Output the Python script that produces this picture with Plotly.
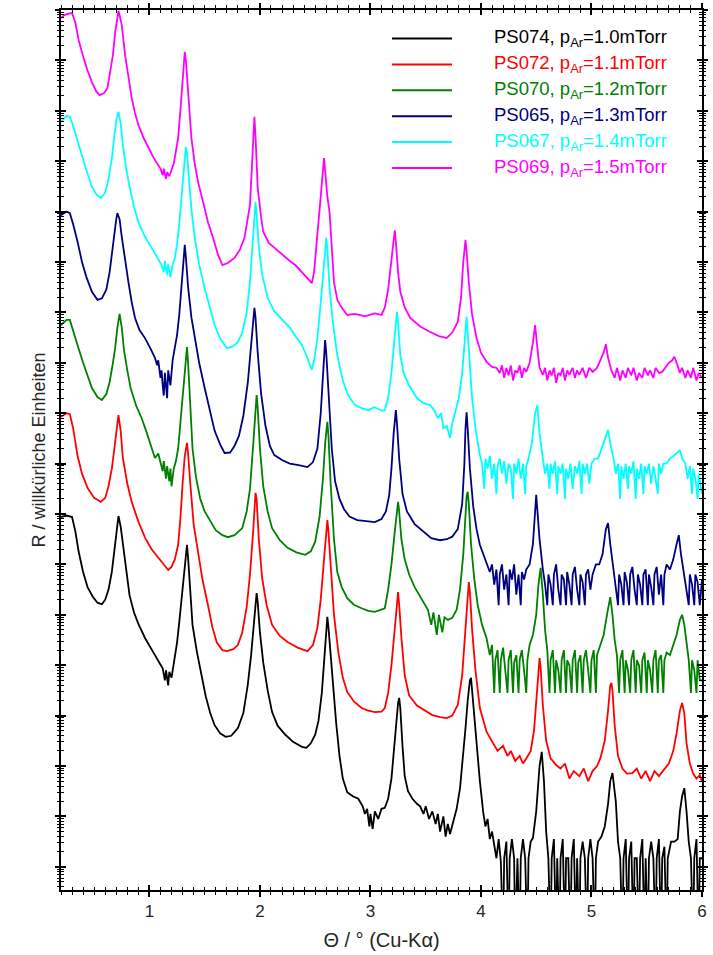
import numpy as np
import plotly.graph_objects as go

# ---------------- data (theta in degrees, log10 of reflectivity, arbitrary offset units) ----------------
sample_ids = ["PS074", "PS072", "PS070", "PS065", "PS067", "PS069"]
pressures_mTorr = ["1.0", "1.1", "1.2", "1.3", "1.4", "1.5"]
colors = ["#000000", "#FF0000", "#008000", "#000080", "#00FFFF", "#FF00FF"]

theta_ps074 = [0.20, 0.25, 0.30, 0.33, 0.36, 0.40, 0.44, 0.49, 0.53, 0.57, 0.60, 0.63, 0.66, 0.68, 0.70, 0.72,
               0.74, 0.76, 0.79, 0.82, 0.86, 0.90, 0.96, 1.00, 1.05, 1.09, 1.12, 1.14, 1.15, 1.17, 1.18, 1.20,
               1.21, 1.23, 1.25, 1.27, 1.29, 1.31, 1.33, 1.34, 1.35, 1.37, 1.39, 1.43, 1.47, 1.51, 1.55, 1.59,
               1.64, 1.69, 1.74, 1.80, 1.85, 1.89, 1.92, 1.95, 1.97, 1.98, 2.00, 2.03, 2.07, 2.11, 2.16, 2.23,
               2.30, 2.38, 2.42, 2.46, 2.50, 2.53, 2.56, 2.58, 2.60, 2.61, 2.62, 2.64, 2.66, 2.69, 2.72, 2.75,
               2.79, 2.84, 2.89, 2.93, 2.95, 2.97, 2.99, 3.00, 3.02, 3.04, 3.07, 3.10, 3.13, 3.16, 3.19, 3.21,
               3.23, 3.25, 3.26, 3.27, 3.29, 3.31, 3.34, 3.38, 3.42, 3.45, 3.48, 3.50, 3.53, 3.56, 3.59, 3.61,
               3.63, 3.66, 3.68, 3.70, 3.72, 3.75, 3.78, 3.81, 3.84, 3.86, 3.88, 3.90, 3.91, 3.92, 3.94, 3.96,
               3.99, 4.02, 4.04, 4.06, 4.08, 4.10, 4.12,
               4.14, 4.16, 4.18, 4.20, 4.21, 4.23, 4.25, 4.26, 4.28, 4.30, 4.31, 4.33, 4.35, 4.36, 4.38, 4.40,
               4.42, 4.43, 4.45, 4.47, 4.50, 4.53, 4.55, 4.57, 4.59, 4.61, 4.63, 4.64, 4.66, 4.68, 4.69, 4.71,
               4.72, 4.74, 4.76, 4.77, 4.79, 4.81, 4.82, 4.84, 4.86, 4.87, 4.89, 4.90, 4.92, 4.94, 4.96, 4.97,
               4.99, 5.01, 5.03, 5.04, 5.06, 5.09, 5.12, 5.15, 5.17, 5.19, 5.22, 5.24, 5.26, 5.28, 5.29, 5.31,
               5.33, 5.34, 5.36, 5.38, 5.39, 5.41, 5.43, 5.44, 5.46, 5.48, 5.49, 5.51, 5.52, 5.54, 5.56, 5.58,
               5.59, 5.61, 5.63, 5.64, 5.66, 5.68, 5.69, 5.72, 5.75, 5.78, 5.80, 5.82, 5.84, 5.86, 5.88, 5.90,
               5.92, 5.93, 5.95, 5.97, 5.98, 6.00]
logR_ps074 = [-10.06, -10.03, -10.06, -10.35, -10.75, -11.15, -11.45, -11.65, -11.76, -11.79, -11.70, -11.50,
              -11.15, -10.80, -10.35, -10.04, -10.25, -10.61, -11.15, -11.61, -11.95, -12.18, -12.46, -12.60,
              -12.80, -12.95, -13.06, -13.30, -13.10, -13.40, -13.13, -13.25, -13.10, -12.86, -12.55, -12.15,
              -11.70, -11.20, -10.75, -10.61, -10.87, -11.61, -12.20, -12.74, -13.20, -13.62, -13.95, -14.19,
              -14.35, -14.42, -14.40, -14.25, -13.95, -13.39, -12.80, -12.05, -11.57, -11.75, -12.35, -12.95,
              -13.50, -13.93, -14.20, -14.38, -14.52, -14.62, -14.64, -14.55, -14.38, -14.10, -13.55, -12.95,
              -12.35, -12.04, -12.25, -12.80, -13.35, -14.15, -14.80, -15.25, -15.52, -15.60, -15.65, -15.80,
              -15.95, -15.85, -16.20, -15.95, -16.25, -15.90, -16.05, -15.85, -15.83, -15.65, -15.25, -14.70,
              -14.15, -13.75, -13.65, -13.85, -14.60, -15.20, -15.50, -15.65, -15.75, -15.80, -15.95, -15.80,
              -16.05, -15.90, -16.15, -15.95, -16.30, -16.00, -16.40, -16.15, -16.35, -16.10, -15.85, -15.45,
              -14.80, -14.25, -13.70, -13.30, -13.25, -13.50, -14.10, -14.60, -15.30, -15.91, -16.20, -16.05,
              -16.45, -16.30, -16.60,
              -16.83, -16.45, -16.90, -18.50, -16.83, -16.50, -18.50, -16.83, -16.45, -16.83, -18.50, -16.83,
              -18.50, -16.83, -16.45, -16.83, -18.50, -16.83, -16.50, -16.43, -15.90, -15.00, -14.72, -15.30,
              -16.30, -16.83, -18.50, -16.83, -16.45, -18.50, -16.83, -18.50, -16.83, -16.45, -18.50, -16.83,
              -16.83, -18.50, -16.83, -16.45, -18.50, -16.83, -18.50, -16.83, -16.50, -16.83, -18.50, -16.83,
              -16.45, -16.83, -18.50, -16.83, -16.50, -16.40, -16.20, -15.75, -15.30, -15.14, -15.70, -16.50,
              -16.83, -18.50, -16.83, -16.45, -18.50, -16.83, -16.50, -18.50, -16.83, -16.83, -18.50, -16.83,
              -16.45, -18.50, -16.83, -18.50, -16.83, -16.50, -16.83, -18.50, -16.83, -16.45, -18.50, -16.83,
              -16.60, -18.50, -16.83, -16.50, -16.50, -16.45, -15.90, -15.60, -15.44, -15.90, -16.50, -16.83,
              -18.50, -16.83, -16.45, -18.50, -16.83, -16.83]

theta_ps072 = [0.20, 0.25, 0.28, 0.31, 0.35, 0.39, 0.44, 0.50, 0.56, 0.60, 0.63, 0.66, 0.68, 0.70, 0.72, 0.74,
               0.76, 0.80, 0.84, 0.90, 0.96, 1.02, 1.08, 1.13, 1.17, 1.20, 1.23, 1.26, 1.28, 1.30, 1.32, 1.34,
               1.35, 1.37, 1.40, 1.44, 1.48, 1.53, 1.57, 1.61, 1.66, 1.70, 1.76, 1.80, 1.84, 1.88, 1.91, 1.94,
               1.96, 1.97, 1.99, 2.02, 2.06, 2.11, 2.18, 2.25, 2.34, 2.43, 2.48, 2.52, 2.55, 2.58, 2.60, 2.61,
               2.62, 2.64, 2.67, 2.71, 2.75, 2.79, 2.85, 2.92, 2.98, 3.04, 3.10, 3.13, 3.16, 3.19, 3.22, 3.24,
               3.25, 3.26, 3.28, 3.31, 3.35, 3.42, 3.49, 3.56, 3.63, 3.69, 3.74, 3.79, 3.83, 3.86, 3.88, 3.89,
               3.90, 3.92, 3.95, 3.99, 4.05, 4.10, 4.15, 4.20, 4.24, 4.27, 4.31, 4.35, 4.38, 4.41, 4.45, 4.48,
               4.50, 4.52, 4.53, 4.54, 4.56, 4.59, 4.63, 4.68, 4.72, 4.76, 4.80, 4.84, 4.89, 4.93, 4.97, 5.01,
               5.05, 5.08, 5.12, 5.15, 5.17, 5.18, 5.19, 5.21, 5.24, 5.28, 5.32, 5.37, 5.41, 5.45, 5.49, 5.53,
               5.57, 5.61, 5.64, 5.70, 5.74, 5.77, 5.80, 5.82, 5.84, 5.86, 5.89, 5.92, 5.95, 5.98, 6.00]
logR_ps072 = [-8.07, -8.00, -8.02, -8.30, -8.85, -9.20, -9.48, -9.68, -9.76, -9.68, -9.45, -9.10, -8.75, -8.35,
              -8.04, -8.35, -8.89, -9.40, -9.76, -10.15, -10.47, -10.70, -10.87, -11.02, -11.11, -11.05, -10.90,
              -10.61, -10.10, -9.40, -8.85, -8.59, -8.80, -9.40, -10.20, -10.75, -11.30, -11.81, -12.25, -12.55,
              -12.70, -12.72, -12.68, -12.60, -12.35, -11.85, -11.20, -10.30, -9.58, -9.70, -10.50, -11.27,
              -11.80, -12.20, -12.42, -12.54, -12.65, -12.72, -12.60, -12.26, -11.70, -10.90, -10.30, -10.12,
              -10.35, -11.00, -12.00, -12.75, -13.25, -13.53, -13.72, -13.85, -13.90, -13.93, -13.92, -13.85,
              -13.55, -13.00, -12.20, -11.70, -11.55, -11.80, -12.45, -13.20, -13.60, -13.80, -13.90, -13.99,
              -14.03, -14.05, -14.00, -13.79, -13.20, -12.30, -11.55, -11.35, -11.55, -12.30, -13.10, -13.85,
              -14.32, -14.50, -14.70, -14.60, -14.80, -14.70, -14.90, -14.80, -14.95, -14.85, -14.70, -14.30,
              -13.70, -13.05, -12.86, -13.05, -13.80, -14.50, -14.85, -14.98, -15.05, -14.95, -15.25, -15.10,
              -15.20, -15.05, -15.30, -15.10, -15.00, -14.85, -14.50, -13.90, -13.40, -13.35, -13.50, -14.20,
              -14.80, -15.05, -15.15, -15.14, -15.05, -15.25, -15.10, -15.30, -15.10, -15.20, -15.12, -14.95,
              -14.70, -14.35, -13.90, -13.75, -13.95, -14.55, -14.95, -15.15, -15.25, -15.18, -15.30]

theta_ps070 = [0.20, 0.25, 0.28, 0.31, 0.35, 0.40, 0.44, 0.48, 0.53, 0.57, 0.61, 0.64, 0.67, 0.69, 0.71, 0.73,
               0.75, 0.77, 0.80, 0.83, 0.88, 0.93, 0.97, 1.00, 1.03, 1.05, 1.08, 1.10, 1.12, 1.13, 1.15, 1.16,
               1.18, 1.19, 1.20, 1.22, 1.24, 1.26, 1.28, 1.30, 1.32, 1.34, 1.35, 1.37, 1.39, 1.42, 1.46, 1.50,
               1.55, 1.60, 1.66, 1.71, 1.77, 1.84, 1.88, 1.91, 1.94, 1.96, 1.97, 1.98, 2.00, 2.03, 2.07, 2.11,
               2.18, 2.25, 2.33, 2.41, 2.46, 2.50, 2.54, 2.57, 2.59, 2.61, 2.62, 2.64, 2.67, 2.70, 2.74, 2.79,
               2.85, 2.92, 2.98, 3.04, 3.10, 3.13, 3.16, 3.19, 3.22, 3.24, 3.25, 3.26, 3.28, 3.31, 3.35, 3.40,
               3.45, 3.49, 3.52, 3.55, 3.57, 3.60, 3.62, 3.65, 3.67, 3.70, 3.74, 3.78, 3.81, 3.84, 3.86, 3.87,
               3.88, 3.89, 3.91, 3.94, 3.97, 4.01, 4.05,
               4.08, 4.10, 4.12, 4.13, 4.15, 4.17, 4.18, 4.20, 4.22, 4.24, 4.25, 4.27, 4.29, 4.30, 4.32, 4.34,
               4.35, 4.37, 4.39, 4.41, 4.42, 4.44, 4.47, 4.50, 4.52, 4.54, 4.56, 4.58, 4.60, 4.62, 4.63, 4.65,
               4.67, 4.68, 4.70, 4.72, 4.73, 4.75, 4.77, 4.78, 4.80, 4.82, 4.83, 4.85, 4.87, 4.88, 4.90, 4.92,
               4.93, 4.95, 4.97, 4.99, 5.00, 5.02, 5.04, 5.05, 5.08, 5.11, 5.14, 5.17, 5.19, 5.21, 5.23, 5.25,
               5.26, 5.28, 5.30, 5.31, 5.33, 5.35, 5.36, 5.38, 5.40, 5.41, 5.43, 5.45, 5.46, 5.48, 5.50, 5.51,
               5.53, 5.55, 5.56, 5.58, 5.60, 5.61, 5.63, 5.65, 5.66, 5.68, 5.71, 5.74, 5.77, 5.80, 5.82, 5.84,
               5.86, 5.88, 5.90, 5.91, 5.93, 5.95, 5.96, 5.98, 6.00]
logR_ps070 = [-6.25, -6.15, -6.15, -6.35, -6.65, -7.00, -7.25, -7.50, -7.68, -7.74, -7.62, -7.38, -7.00, -6.71,
              -6.30, -6.03, -6.30, -6.75, -7.15, -7.50, -7.85, -8.10, -8.35, -8.57, -8.75, -8.89, -8.80, -9.00,
              -9.15, -8.95, -9.30, -9.05, -9.35, -9.10, -9.45, -9.10, -8.95, -8.70, -8.20, -7.60, -7.05, -6.69,
              -7.00, -7.90, -8.70, -9.25, -9.70, -9.95, -10.15, -10.32, -10.42, -10.46, -10.42, -10.28, -9.95,
              -9.50, -8.60, -7.90, -7.64, -7.90, -8.70, -9.45, -9.95, -10.28, -10.52, -10.67, -10.76, -10.81,
              -10.74, -10.55, -10.05, -9.30, -8.60, -8.17, -8.45, -9.40, -10.50, -11.15, -11.45, -11.67, -11.80,
              -11.87, -11.92, -11.94, -11.90, -11.87, -11.50, -11.00, -10.35, -9.90, -9.76, -9.95, -10.50,
              -10.90, -11.20, -11.45, -11.65, -11.80, -11.90, -12.20, -11.95, -12.40, -12.00, -12.35, -12.05,
              -12.10, -12.06, -11.90, -11.50, -10.80, -10.00, -9.65, -9.56, -9.80, -10.60, -11.30, -11.80,
              -12.20, -12.46,
              -12.80, -12.60, -13.55, -12.90, -12.70, -13.55, -12.90, -12.65, -13.10, -13.55, -12.90, -12.70,
              -13.55, -12.95, -12.80, -13.55, -12.90, -12.70, -13.10, -13.55, -12.90, -12.60, -12.40, -12.00,
              -11.40, -11.07, -11.60, -12.30, -12.70, -13.55, -12.90, -12.70, -13.55, -12.90, -13.10, -13.55,
              -12.90, -12.70, -13.55, -12.90, -13.00, -13.55, -12.90, -12.70, -13.55, -12.95, -12.80, -13.55,
              -12.90, -12.70, -13.10, -13.55, -12.90, -12.70, -13.55, -12.80, -12.60, -12.40, -12.00, -11.65,
              -12.00, -12.50, -12.80, -13.55, -12.90, -12.70, -13.55, -12.90, -13.10, -13.55, -12.90, -12.70,
              -13.55, -12.90, -13.00, -13.55, -12.90, -12.75, -13.55, -12.90, -13.10, -13.55, -12.90, -12.70,
              -13.55, -12.90, -12.80, -13.55, -12.90, -12.75, -12.80, -12.60, -12.40, -12.10, -12.00, -12.20,
              -12.60, -12.90, -13.55, -12.90, -13.10, -13.55, -12.90, -13.30, -13.30]

theta_ps065 = [0.20, 0.25, 0.28, 0.31, 0.35, 0.39, 0.43, 0.48, 0.53, 0.57, 0.61, 0.64, 0.66, 0.68, 0.70, 0.71,
               0.73, 0.75, 0.78, 0.81, 0.84, 0.87, 0.91, 0.96, 1.01, 1.05, 1.07, 1.08, 1.10, 1.11, 1.12, 1.13,
               1.14, 1.15, 1.16, 1.17, 1.19, 1.20, 1.21, 1.23, 1.25, 1.27, 1.29, 1.31, 1.32, 1.33, 1.35, 1.38,
               1.41, 1.45, 1.50, 1.55, 1.59, 1.64, 1.68, 1.73, 1.77, 1.81, 1.85, 1.89, 1.92, 1.94, 1.95, 1.96,
               1.98, 2.01, 2.05, 2.09, 2.13, 2.20, 2.27, 2.35, 2.43, 2.48, 2.52, 2.55, 2.57, 2.59, 2.60, 2.62,
               2.65, 2.68, 2.72, 2.76, 2.81, 2.88, 2.95, 3.04, 3.10, 3.14, 3.17, 3.19, 3.21, 3.23, 3.24, 3.26,
               3.29, 3.33, 3.40, 3.48, 3.55, 3.63, 3.69, 3.74, 3.79, 3.83, 3.85, 3.86, 3.87, 3.88, 3.90, 3.93,
               3.96, 3.99, 4.03, 4.06, 4.08,
               4.10, 4.12, 4.14, 4.16, 4.17, 4.19, 4.21, 4.23, 4.25, 4.26, 4.28, 4.30, 4.32, 4.34, 4.36, 4.37,
               4.39, 4.41, 4.44, 4.47, 4.50, 4.53, 4.56, 4.58, 4.60, 4.61, 4.63, 4.65, 4.66, 4.68, 4.70, 4.72,
               4.73, 4.75, 4.77, 4.78, 4.80, 4.82, 4.83, 4.85, 4.87, 4.89, 4.90, 4.92, 4.94, 4.95, 4.97, 4.99,
               5.01, 5.04, 5.07, 5.10, 5.13, 5.15, 5.17, 5.20, 5.22, 5.24, 5.25, 5.27, 5.29, 5.30, 5.32, 5.34,
               5.35, 5.37, 5.39, 5.41, 5.42, 5.44, 5.46, 5.47, 5.49, 5.51, 5.52, 5.54, 5.56, 5.57, 5.59, 5.61,
               5.63, 5.65, 5.66, 5.68, 5.71, 5.74, 5.77, 5.79, 5.81, 5.84, 5.86, 5.88, 5.89, 5.91, 5.93, 5.94,
               5.96, 5.98, 6.00]
logR_ps065 = [-4.07, -4.00, -4.03, -4.25, -4.60, -5.00, -5.30, -5.59, -5.75, -5.72, -5.55, -5.20, -4.85, -4.45,
              -4.15, -4.03, -4.15, -4.50, -5.00, -5.40, -5.80, -6.11, -6.35, -6.51, -6.72, -6.90, -7.05, -6.95,
              -7.30, -7.15, -7.45, -7.65, -7.20, -7.50, -7.70, -7.15, -7.45, -7.20, -6.95, -6.70, -6.45, -6.05,
              -5.50, -4.95, -4.66, -4.90, -5.50, -6.10, -6.51, -7.00, -7.50, -8.00, -8.35, -8.62, -8.79, -8.78,
              -8.65, -8.45, -8.05, -7.40, -6.70, -6.10, -5.91, -6.10, -6.80, -7.60, -8.25, -8.65, -8.83, -8.93,
              -9.00, -9.03, -9.07, -8.97, -8.70, -8.00, -7.20, -6.55, -6.80, -7.60, -8.70, -9.35, -9.70, -9.90,
              -10.05, -10.12, -10.14, -10.16, -10.10, -9.95, -9.62, -9.10, -8.40, -7.94, -8.20, -8.90, -9.60,
              -9.95, -10.20, -10.35, -10.48, -10.52, -10.50, -10.45, -10.30, -9.80, -9.00, -8.30, -7.98, -8.30,
              -9.10, -9.85, -10.30, -10.61, -10.85, -11.00, -11.15,
              -11.00, -11.40, -11.10, -11.81, -11.20, -11.00, -11.50, -11.20, -11.81, -11.10, -11.30, -11.00,
              -11.60, -11.20, -11.81, -11.15, -11.30, -11.10, -11.00, -10.60, -9.62, -10.50, -11.10, -11.40,
              -11.81, -11.20, -11.40, -11.81, -11.20, -11.00, -11.50, -11.81, -11.20, -11.30, -11.81, -11.15,
              -11.40, -11.81, -11.20, -11.05, -11.50, -11.81, -11.20, -11.35, -11.81, -11.20, -11.10, -11.50,
              -11.20, -11.00, -11.00, -10.80, -10.30, -10.18, -10.60, -11.10, -11.40, -11.81, -11.20, -11.40,
              -11.81, -11.15, -11.35, -11.81, -11.20, -11.05, -11.50, -11.81, -11.20, -11.40, -11.81, -11.20,
              -11.10, -11.81, -11.20, -11.45, -11.81, -11.20, -11.05, -11.60, -11.20, -11.81, -11.20, -11.00,
              -11.10, -10.90, -10.60, -10.42, -10.80, -11.20, -11.50, -11.81, -11.20, -11.40, -11.81, -11.20,
              -11.35, -11.81, -11.30]

theta_ps067 = [0.20, 0.25, 0.28, 0.31, 0.35, 0.39, 0.43, 0.48, 0.52, 0.56, 0.60, 0.63, 0.66, 0.68, 0.70, 0.72,
               0.74, 0.76, 0.79, 0.82, 0.86, 0.90, 0.96, 1.02, 1.07, 1.11, 1.13, 1.14, 1.16, 1.17, 1.19, 1.21,
               1.23, 1.25, 1.27, 1.29, 1.31, 1.33, 1.34, 1.36, 1.38, 1.41, 1.45, 1.50, 1.55, 1.59, 1.64, 1.70,
               1.75, 1.80, 1.84, 1.88, 1.91, 1.94, 1.96, 1.97, 1.99, 2.02, 2.07, 2.13, 2.20, 2.27, 2.33, 2.38,
               2.42, 2.45, 2.47, 2.49, 2.52, 2.55, 2.58, 2.60, 2.61, 2.63, 2.66, 2.70, 2.75, 2.80, 2.86, 2.92,
               2.98, 3.04, 3.10, 3.13, 3.16, 3.19, 3.21, 3.23, 3.24, 3.25, 3.27, 3.30, 3.35, 3.42, 3.48, 3.54,
               3.58, 3.61, 3.64, 3.66, 3.69, 3.72, 3.74, 3.77, 3.80, 3.83, 3.85, 3.87, 3.88, 3.90, 3.92, 3.95,
               3.99,
               4.01, 4.03, 4.04, 4.06, 4.08, 4.10, 4.12, 4.14, 4.15, 4.17, 4.19, 4.21, 4.23, 4.25, 4.27, 4.29,
               4.30, 4.32, 4.34, 4.36, 4.38, 4.40, 4.41, 4.43, 4.46, 4.49, 4.51, 4.53, 4.56, 4.58, 4.60, 4.62,
               4.63, 4.65, 4.67, 4.69, 4.70, 4.72, 4.74, 4.76, 4.77, 4.79, 4.81, 4.83, 4.85, 4.87, 4.89, 4.91,
               4.92, 4.94, 4.96, 4.98, 5.00, 5.03, 5.06, 5.09, 5.12, 5.15, 5.17, 5.20, 5.22, 5.24, 5.26, 5.27,
               5.29, 5.31, 5.33, 5.34, 5.36, 5.38, 5.40, 5.41, 5.43, 5.45, 5.47, 5.48, 5.50, 5.52, 5.54, 5.56,
               5.58, 5.60, 5.61, 5.63, 5.65, 5.68, 5.71, 5.74, 5.77, 5.80, 5.82, 5.85, 5.87, 5.89, 5.91, 5.92,
               5.94, 5.96, 5.97, 6.00]
logR_ps067 = [-2.22, -2.10, -2.12, -2.30, -2.60, -2.90, -3.18, -3.51, -3.66, -3.73, -3.62, -3.35, -2.95, -2.55,
              -2.20, -2.02, -2.25, -2.68, -3.15, -3.50, -3.90, -4.21, -4.50, -4.72, -4.90, -5.06, -5.20, -4.98,
              -5.25, -5.05, -5.30, -5.05, -4.92, -4.65, -4.25, -3.80, -3.20, -2.72, -2.85, -3.40, -3.95, -4.52,
              -5.05, -5.52, -5.95, -6.25, -6.52, -6.71, -6.68, -6.59, -6.40, -6.00, -5.40, -4.50, -3.81, -4.05,
              -4.70, -5.25, -5.71, -5.98, -6.15, -6.30, -6.50, -6.65, -6.85, -7.05, -7.14, -6.95, -6.51, -5.80,
              -5.00, -4.52, -4.75, -5.52, -6.20, -6.85, -7.35, -7.65, -7.84, -7.90, -7.94, -7.88, -7.95, -7.94,
              -7.70, -7.20, -6.70, -6.15, -5.99, -6.20, -6.85, -7.20, -7.45, -7.70, -7.80, -7.84, -7.95, -8.10,
              -8.00, -8.30, -8.25, -8.49, -8.20, -7.95, -7.70, -7.20, -6.60, -6.09, -6.40, -7.10, -7.70, -8.30,
              -8.83,
              -9.00, -9.50, -8.90, -9.10, -8.85, -9.30, -9.00, -9.60, -9.05, -8.90, -9.20, -8.95, -9.40, -9.00,
              -9.10, -9.70, -9.00, -9.20, -8.90, -9.30, -9.00, -9.60, -9.05, -8.90, -8.60, -8.00, -7.84, -8.40,
              -8.90, -9.20, -9.00, -9.50, -9.00, -9.20, -8.95, -9.60, -9.05, -9.20, -9.00, -9.70, -9.10, -9.30,
              -9.00, -9.50, -9.05, -9.20, -8.95, -9.60, -9.00, -9.20, -9.00, -9.40, -9.00, -8.90, -8.90, -8.70,
              -8.50, -8.33, -8.60, -8.90, -9.20, -9.00, -9.70, -9.05, -9.30, -9.00, -9.50, -9.05, -9.20, -8.95,
              -9.70, -9.10, -9.30, -9.00, -9.60, -9.05, -9.20, -9.00, -9.40, -9.05, -9.30, -9.60, -9.00, -9.20,
              -9.00, -9.00, -8.90, -8.85, -8.80, -8.73, -8.90, -9.00, -9.30, -9.05, -9.60, -9.10, -9.30, -9.70,
              -9.20, -9.60]

theta_ps069 = [0.20, 0.23, 0.27, 0.30, 0.33, 0.36, 0.40, 0.44, 0.48, 0.52, 0.55, 0.59, 0.62, 0.65, 0.67, 0.69,
               0.71, 0.72, 0.73, 0.75, 0.78, 0.81, 0.84, 0.87, 0.90, 0.95, 0.99, 1.03, 1.08, 1.10, 1.12, 1.13,
               1.15, 1.16, 1.18, 1.20, 1.22, 1.24, 1.26, 1.28, 1.30, 1.32, 1.33, 1.35, 1.38, 1.41, 1.44, 1.49,
               1.53, 1.58, 1.62, 1.66, 1.71, 1.77, 1.82, 1.86, 1.89, 1.91, 1.93, 1.95, 1.96, 1.98, 2.01, 2.03,
               2.08, 2.13, 2.20, 2.27, 2.32, 2.38, 2.43, 2.47, 2.49, 2.52, 2.55, 2.58, 2.59, 2.61, 2.63, 2.65,
               2.67, 2.70, 2.74, 2.79, 2.86, 2.95, 3.04, 3.10, 3.13, 3.16, 3.19, 3.21, 3.22, 3.23, 3.25, 3.27,
               3.31, 3.36, 3.45, 3.54, 3.62, 3.69, 3.74, 3.79, 3.82, 3.84, 3.86, 3.87, 3.89, 3.92, 3.96, 4.00,
               4.05, 4.10, 4.14,
               4.17, 4.19, 4.21, 4.23, 4.25, 4.27, 4.29, 4.31, 4.33, 4.35, 4.37, 4.39, 4.41, 4.44, 4.47, 4.49,
               4.51, 4.53, 4.56, 4.58, 4.60, 4.62, 4.64, 4.66, 4.68, 4.70, 4.72, 4.74, 4.76, 4.78, 4.80, 4.83,
               4.85, 4.87, 4.89, 4.92, 4.95, 4.98, 5.01, 5.05, 5.08, 5.11, 5.13, 5.15, 5.18, 5.21, 5.23, 5.26,
               5.28, 5.31, 5.33, 5.36, 5.38, 5.41, 5.43, 5.46, 5.48, 5.51, 5.53, 5.56, 5.58, 5.61, 5.64, 5.67,
               5.70, 5.73, 5.75, 5.77, 5.80, 5.82, 5.85, 5.87, 5.90, 5.92, 5.95, 5.97, 6.00]
logR_ps069 = [-0.16, -0.10, -0.07, -0.06, -0.25, -0.60, -0.92, -1.20, -1.43, -1.62, -1.69, -1.65, -1.55, -1.20,
              -0.89, -0.45, -0.10, -0.02, -0.10, -0.30, -0.89, -1.35, -1.75, -2.05, -2.28, -2.55, -2.74, -2.90,
              -3.08, -3.15, -3.28, -3.15, -3.35, -3.22, -3.30, -3.15, -3.05, -2.80, -2.54, -2.00, -1.35, -0.83,
              -1.00, -1.55, -2.54, -3.05, -3.41, -3.85, -4.21, -4.55, -4.85, -5.06, -5.02, -4.92, -4.75, -4.52,
              -4.15, -3.87, -3.00, -2.12, -2.50, -3.53, -4.10, -4.40, -4.62, -4.72, -4.85, -4.98, -5.06, -5.20,
              -5.32, -5.42, -5.20, -4.52, -3.70, -2.94, -3.20, -3.70, -4.01, -4.70, -5.40, -5.75, -5.91, -6.05,
              -6.03, -6.08, -6.02, -6.05, -5.90, -5.55, -5.00, -4.55, -4.37, -4.60, -5.20, -5.59, -5.90, -6.11,
              -6.28, -6.39, -6.47, -6.51, -6.40, -6.19, -5.70, -5.00, -4.56, -4.80, -5.40, -6.05, -6.51, -6.80,
              -6.98, -7.08, -7.10,
              -7.20, -7.05, -7.30, -7.10, -7.25, -7.05, -7.35, -7.15, -7.20, -7.05, -7.30, -7.10, -7.18, -7.00,
              -6.60, -6.25, -6.70, -7.10, -7.24, -7.10, -7.35, -7.15, -7.25, -7.10, -7.40, -7.20, -7.25, -7.10,
              -7.35, -7.15, -7.24, -7.10, -7.30, -7.15, -7.24, -7.10, -7.30, -7.10, -7.18, -7.10, -6.95, -6.80,
              -6.63, -6.90, -7.15, -7.30, -7.10, -7.35, -7.15, -7.30, -7.10, -7.25, -7.10, -7.35, -7.20, -7.30,
              -7.10, -7.25, -7.15, -7.30, -7.10, -7.20, -7.18, -7.10, -7.00, -6.95, -6.88, -7.00, -7.20, -7.10,
              -7.30, -7.15, -7.30, -7.10, -7.35, -7.20, -7.30]

thetas = [theta_ps074, theta_ps072, theta_ps070, theta_ps065, theta_ps067, theta_ps069]
logRs = [logR_ps074, logR_ps072, logR_ps070, logR_ps065, logR_ps067, logR_ps069]

x_ticks = [1, 2, 3, 4, 5, 6]

# ---------------- figure ----------------
FONT = "Liberation Sans, Arial, sans-serif"
TXT = "#262626"
fig = go.Figure()
for sid, col, th, lr in zip(sample_ids, colors, thetas, logRs):
    assert len(th) == len(lr), (sid, len(th), len(lr))
    fig.add_trace(go.Scatter(
        x=th, y=10 ** np.array(lr), mode="lines",
        line=dict(color=col, width=1.8), name=sid, showlegend=False,
    ))

# dummy trace to activate the overlay axes (inner tick marks)
fig.add_trace(go.Scatter(x=[None], y=[None], xaxis="x2", yaxis="y2", showlegend=False, hoverinfo="skip"))

y_range = [-17.46, 0]
x_range = [0.2, 6.0]

common_x = dict(range=x_range, tick0=0, dtick=1, showline=True, linecolor="black", linewidth=2,
                tickcolor="black", tickwidth=1.5, showgrid=False, zeroline=False, automargin=False)
common_y = dict(type="log", range=y_range, dtick=1, showline=True, linecolor="black", linewidth=2,
                tickcolor="black", tickwidth=1.5, showgrid=False, zeroline=False, showticklabels=False,
                automargin=False)

fig.update_layout(
    width=713, height=955,
    margin=dict(l=61, r=11, t=10, b=65),
    paper_bgcolor="white", plot_bgcolor="white",
    font=dict(family=FONT, size=17, color=TXT),
    xaxis=dict(**common_x, ticks="outside", ticklen=5, mirror="allticks",
               tickvals=x_ticks, tickfont=dict(size=17, color=TXT),
               minor=dict(dtick=0.1, tick0=0, ticks="outside", ticklen=3, tickcolor="black", tickwidth=1),
               title=dict(text="Θ / ° (Cu-Kα)", font=dict(size=20, color=TXT), standoff=13)),
    xaxis2=dict(**common_x, ticks="inside", ticklen=5, mirror="allticks", overlaying="x",
                showticklabels=False, tickvals=x_ticks,
                minor=dict(dtick=0.1, tick0=0, ticks="inside", ticklen=3, tickcolor="black", tickwidth=1)),
    yaxis=dict(**common_y, ticks="outside", ticklen=4, mirror="allticks",
               minor=dict(dtick="D1", ticks="outside", ticklen=2, tickcolor="black", tickwidth=1),
               title=dict(text="R / willkürliche Einheiten", font=dict(size=18, color=TXT), standoff=5)),
    yaxis2=dict(**common_y, ticks="inside", ticklen=5, mirror="allticks", overlaying="y",
                minor=dict(dtick="D1", ticks="inside", ticklen=3, tickcolor="black", tickwidth=1)),
    showlegend=False,
)

# manual legend (long line samples, coloured labels) placed in paper coordinates
PLOT_L, PLOT_R, PLOT_T, PLOT_B = 61, 702, 10, 890
def px_to_paper_x(px):
    return (px - PLOT_L) / (PLOT_R - PLOT_L)
def py_to_paper_y(py):
    return (PLOT_B - py) / (PLOT_B - PLOT_T)

for i, (sid, p, col) in enumerate(zip(sample_ids, pressures_mTorr, colors)):
    row_py = 38.5 + 25.9 * i
    yy = py_to_paper_y(row_py)
    fig.add_shape(type="line", xref="paper", yref="paper",
                  x0=px_to_paper_x(392), x1=px_to_paper_x(452), y0=yy, y1=yy,
                  line=dict(color=col, width=2))
    fig.add_annotation(xref="paper", yref="paper", x=px_to_paper_x(492), y=yy,
                       xanchor="left", yanchor="middle", showarrow=False,
                       text=f"{sid}, p<sub>Ar</sub>={p}mTorr",
                       font=dict(family=FONT, size=18.5, color=col))

fig.write_html("out.html", config={"displayModeBar": False},
               post_script="document.body.style.margin='0px';")
